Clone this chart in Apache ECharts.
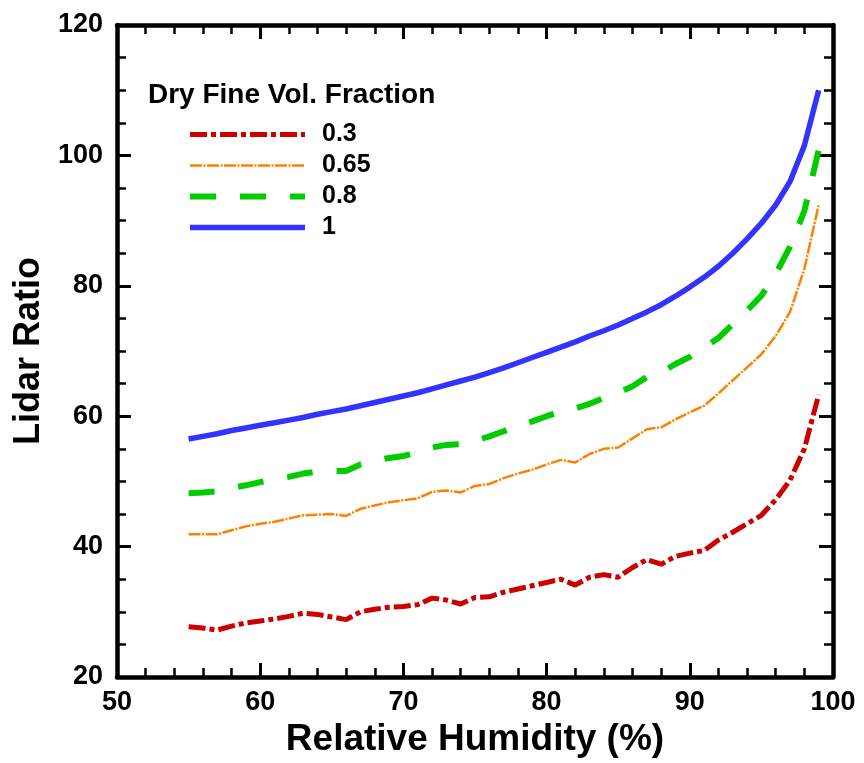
<!DOCTYPE html>
<html>
<head>
<meta charset="utf-8">
<script src="https://cdn.jsdelivr.net/npm/echarts@6/dist/echarts.min.js"></script>
<style>html,body{margin:0;padding:0;background:#fff}#c{width:864px;height:763px}</style>
</head>
<body>
<div id="c"></div>
<script>
// Relative humidity (%) sample points
var rh = [55,56,57,58,59,60,61,62,63,64,65,66,67,68,69,70,71,72,73,74,75,76,77,78,79,80,81,82,83,84,85,86,87,88,89,90,91,92,93,94,95,96,97,98,99];
// Lidar ratio for each dry fine volume fraction
var frac03 = [27.7,27.5,27.2,27.8,28.3,28.6,28.9,29.3,29.8,29.6,29.2,28.8,30.0,30.4,30.7,30.8,31.1,32.1,31.8,31.2,32.2,32.3,33.0,33.5,34.0,34.5,35.0,34.1,35.3,35.7,35.3,36.8,38.0,37.3,38.5,39.0,39.4,41.0,42.2,43.5,44.8,47.2,50.2,55.0,63.3];
var frac065 = [41.9,41.9,41.9,42.5,43.1,43.5,43.8,44.3,44.8,44.9,45.0,44.7,45.8,46.3,46.8,47.1,47.4,48.4,48.6,48.3,49.3,49.6,50.5,51.2,51.8,52.6,53.3,52.9,54.2,55.0,55.2,56.6,58.0,58.3,59.5,60.6,61.6,63.5,65.5,67.5,69.5,72.3,76.0,82.6,92.4];
var frac08 = [48.2,48.3,48.5,49.0,49.4,49.9,50.3,50.7,51.2,51.5,51.6,51.6,52.6,53.2,53.6,53.9,54.4,55.2,55.6,55.7,56.2,56.9,57.7,58.5,59.2,60.0,60.7,61.2,61.9,62.8,63.6,64.6,66.0,66.7,68.0,69.1,70.5,72.0,74.1,76.2,78.5,81.8,86.0,91.5,100.8];
var frac1 = [56.5,56.9,57.3,57.8,58.2,58.6,59.0,59.4,59.8,60.3,60.7,61.1,61.6,62.1,62.6,63.1,63.6,64.2,64.8,65.4,66.0,66.7,67.4,68.2,69.0,69.8,70.6,71.4,72.3,73.1,74.0,75.0,76.0,77.1,78.4,79.8,81.3,83.0,85.0,87.2,89.6,92.4,96.0,101.5,110.0];
var seriesNames = ['0.3','0.65','0.8','1'];
var legendTitle = 'Dry Fine Vol. Fraction';
var xTitle = 'Relative Humidity (%)';
var yTitle = 'Lidar Ratio';

function pairs(ys){ return rh.map(function(x,i){ return [x, ys[i]]; }); }

var FONT = '"Liberation Sans", Arial, Helvetica, sans-serif';
var chart = echarts.init(document.getElementById('c'), null, {renderer:'canvas'});

function xAx(pos, show){
  return {
    type:'value', min:50, max:100, interval:10, position:pos,
    axisLine:{show:true, onZero:false, lineStyle:{color:'#000', width:4.5}},
    axisTick:{show:true, inside:true, length:14, lineStyle:{color:'#000', width:3}},
    minorTick:{show:true, splitNumber:5, length:9, lineStyle:{color:'#000', width:2.5}},
    splitLine:{show:false}, minorSplitLine:{show:false},
    axisLabel:{show:show, margin:12, color:'#000', fontFamily:FONT, fontWeight:'bold', fontSize:27},
    name: show ? xTitle : '', nameLocation:'middle', nameGap:40,
    nameTextStyle:{color:'#000', fontFamily:FONT, fontWeight:'bold', fontSize:37}
  };
}
function yAx(pos, show){
  return {
    type:'value', min:20, max:120, interval:20, position:pos,
    axisLine:{show:true, onZero:false, lineStyle:{color:'#000', width:4.5}},
    axisTick:{show:true, inside:true, length:14, lineStyle:{color:'#000', width:3}},
    minorTick:{show:true, splitNumber:4, length:9, lineStyle:{color:'#000', width:2.5}},
    splitLine:{show:false}, minorSplitLine:{show:false},
    axisLabel:{show:show, margin:14, color:'#000', fontFamily:FONT, fontWeight:'bold', fontSize:27},
    name: show ? yTitle : '', nameLocation:'middle', nameGap:68, nameRotate:90,
    nameTextStyle:{color:'#000', fontFamily:FONT, fontWeight:'bold', fontSize:36}
  };
}

var styles = [
  {color:'#cc0000', width:5, type:[17,4,5,4]},
  {color:'#ff8000', width:2.5, type:[12,1.5,2,1.5]},
  {color:'#00cc00', width:6, type:[26,24]},
  {color:'#3333ff', width:5.5, type:'solid'}
];
var datas = [frac03, frac065, frac08, frac1];

var option = {
  backgroundColor:'#fff',
  animation:false,
  grid:{left:117, right:31, top:25, bottom:86, containLabel:false},
  xAxis:[xAx('bottom', true), xAx('top', false)],
  yAxis:[yAx('left', true), yAx('right', false)],
  legend:{
    orient:'vertical', left:187, top:122, padding:0, itemWidth:115, itemHeight:14, itemGap:6,
    selectedMode:false,
    data:seriesNames,
    itemStyle:{opacity:0},
    lineStyle:{width:'inherit', type:'inherit', color:'inherit'},
    textStyle:{color:'#000', fontFamily:FONT, fontWeight:'bold', fontSize:25, lineHeight:25, padding:[0,0,0,12]}
  },
  graphic:[{
    type:'text', left:148, top:81,
    style:{text:legendTitle, fill:'#000', font:'bold 28px ' + FONT}
  }],
  series: seriesNames.map(function(n,i){
    return {
      name:n, type:'line', xAxisIndex:0, yAxisIndex:0,
      data:pairs(datas[i]), showSymbol:false, symbol:'none', smooth:false,
      lineStyle:{color:styles[i].color, width:styles[i].width, type:styles[i].type, cap:'butt'},
      itemStyle:{color:styles[i].color},
      emphasis:{disabled:true}, z: 2 + i
    };
  })
};
chart.setOption(option);
</script>
</body>
</html>
